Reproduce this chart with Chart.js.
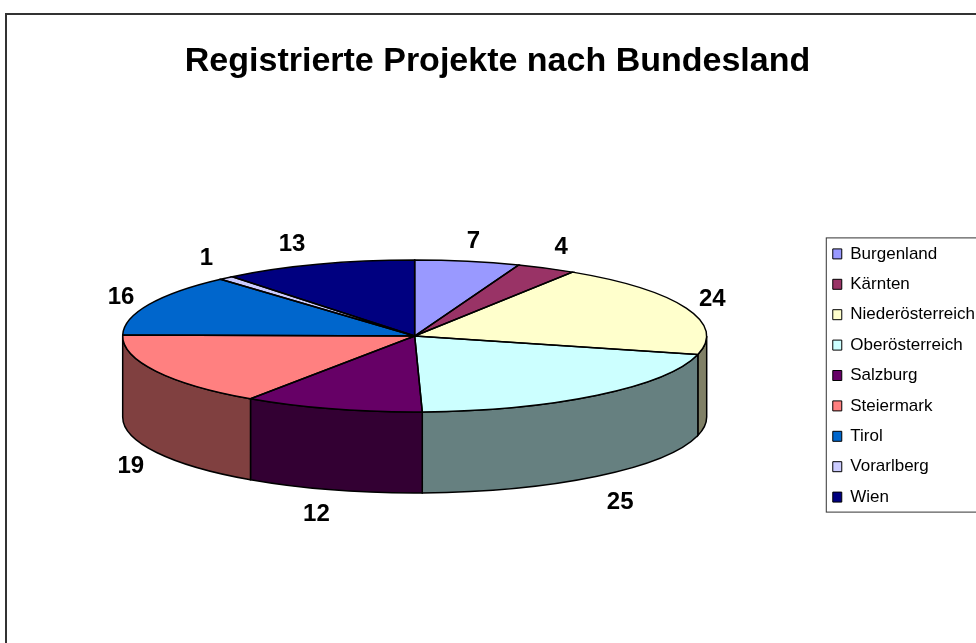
<!DOCTYPE html>
<html lang="de">
<head>
    <meta charset="UTF-8">
    <title>Registrierte Projekte nach Bundesland</title>
    <style>
        html, body { margin: 0; height: 100%; overflow: hidden; background: #fff; }
        #rahmen { position: absolute; left: 5px; top: 13px; border: 2px solid #333; width: 978px; height: 640px; }
        canvas { display: block; }
    </style>
</head>
<body>
    <div id="rahmen">
        <canvas id="grafico1" width="978" height="640"></canvas>
    </div>

    <script src="https://cdn.jsdelivr.net/npm/chart.js"></script>

    <script>
        const titel = 'Registrierte Projekte nach Bundesland'
        const bundeslaender = ['Burgenland', 'Kärnten', 'Niederösterreich', 'Oberösterreich', 'Salzburg', 'Steiermark', 'Tirol', 'Vorarlberg', 'Wien']
        const projekte = [7, 4, 24, 25, 12, 19, 16, 1, 13]
        const farben = ['#9999FF', '#993366', '#FFFFCC', '#CCFFFF', '#660066', '#FF8080', '#0066CC', '#CCCCFF', '#000080']
        const wandFarben = ['#4C4C80', '#4C1933', '#808066', '#668080', '#330033', '#804040', '#003366', '#666680', '#000040']

        const schrift = 'Liberation Sans, Arial, sans-serif'
        const stauchung = 0.26   // the pie is a circle for the library, squashed here to look tilted
        const tiefe = 81
        const linie = 1.5
        // label offset from the rim of each slice, as placed in the original
        const labelVersatz = [[6, -20], [15, -21], [26, -9], [23, 26], [-16, 25], [-25, 14], [-28, -7], [-20, -20], [-26, -20]]

        const torte3d = {
            id: 'torte3d',
            beforeDatasetsDraw(chart) {
                const ctx = chart.ctx
                ctx.save()
                ctx.lineWidth = linie
                ctx.strokeStyle = '#000'
                chart.getDatasetMeta(0).data.forEach((arc, i) => {
                    // only the part in the front half has a visible wall
                    const a0 = Math.max(arc.startAngle, 0)
                    const a1 = Math.min(arc.endAngle, Math.PI)
                    if (a0 >= a1) return
                    const r = arc.outerRadius
                    ctx.beginPath()
                    ctx.ellipse(arc.x, arc.y, r, r * stauchung, 0, a0, a1)
                    ctx.ellipse(arc.x, arc.y + tiefe, r, r * stauchung, 0, a1, a0, true)
                    ctx.closePath()
                    ctx.fillStyle = wandFarben[i]
                    ctx.fill()
                    ctx.stroke()
                })
                ctx.restore()
            },
            beforeDatasetDraw(chart) {
                const ctx = chart.ctx
                const arc = chart.getDatasetMeta(0).data[0]
                ctx.save()
                ctx.translate(arc.x, arc.y)
                ctx.scale(1, stauchung)
                ctx.translate(-arc.x, -arc.y)
            },
            afterDatasetDraw(chart) {
                chart.ctx.restore()
            },
            afterDatasetsDraw(chart) {
                const ctx = chart.ctx
                ctx.save()
                chart.getDatasetMeta(0).data.forEach((arc, i) => {
                    const r = arc.outerRadius
                    ctx.beginPath()
                    ctx.ellipse(arc.x, arc.y, r, r * stauchung, 0, arc.startAngle, arc.endAngle)
                    ctx.lineTo(arc.x, arc.y)
                    ctx.closePath()
                    ctx.lineWidth = linie
                    ctx.strokeStyle = '#000'
                    ctx.stroke()

                    const mitte = (arc.startAngle + arc.endAngle) / 2
                    const vorne = Math.sin(mitte) > 0 ? tiefe : 0
                    ctx.font = 'bold 24px ' + schrift
                    ctx.fillStyle = '#000'
                    ctx.textAlign = 'center'
                    ctx.textBaseline = 'middle'
                    ctx.fillText(projekte[i],
                        arc.x + r * Math.cos(mitte) + labelVersatz[i][0],
                        arc.y + r * stauchung * Math.sin(mitte) + vorne + labelVersatz[i][1])
                })
                ctx.restore()
            },
            afterDraw(chart) {
                // frame round the legend
                const boxen = chart.legend.legendHitBoxes
                const oben = boxen[0].top - 8
                const unten = boxen[boxen.length - 1].top + boxen[boxen.length - 1].height + 6
                const ctx = chart.ctx
                ctx.save()
                ctx.strokeStyle = '#333'
                ctx.lineWidth = 1
                ctx.strokeRect(boxen[0].left - 6.5, oben + 0.5, 300, unten - oben)
                ctx.restore()
            }
        }

        new Chart(document.getElementById('grafico1'), {
            type: 'pie',
            data: {
                labels: bundeslaender,
                datasets: [{
                    data: projekte,
                    backgroundColor: farben,
                    borderWidth: 0,
                    radius: 292
                }]
            },
            options: {
                responsive: false,
                animation: false,
                events: [],
                layout: { padding: { left: 3, bottom: 136 } },
                plugins: {
                    title: {
                        display: true,
                        text: titel,
                        color: '#000',
                        font: { family: schrift, size: 34, weight: 'bold' },
                        padding: { top: 26.1, bottom: 71.1 }
                    },
                    legend: {
                        position: 'right',
                        align: 'end',
                        maxWidth: 166,
                        labels: {
                            color: '#000',
                            font: { family: schrift, size: 17 },
                            boxWidth: 9,
                            boxHeight: 10,
                            padding: 13.4,
                            generateLabels(chart) {
                                const itens = Chart.overrides.pie.plugins.legend.labels.generateLabels(chart)
                                itens.forEach(item => {
                                    item.lineWidth = 1
                                    item.strokeStyle = '#000'
                                })
                                return itens
                            }
                        }
                    },
                    tooltip: { enabled: false }
                }
            },
            plugins: [torte3d]
        })
    </script>
</body>
</html>
